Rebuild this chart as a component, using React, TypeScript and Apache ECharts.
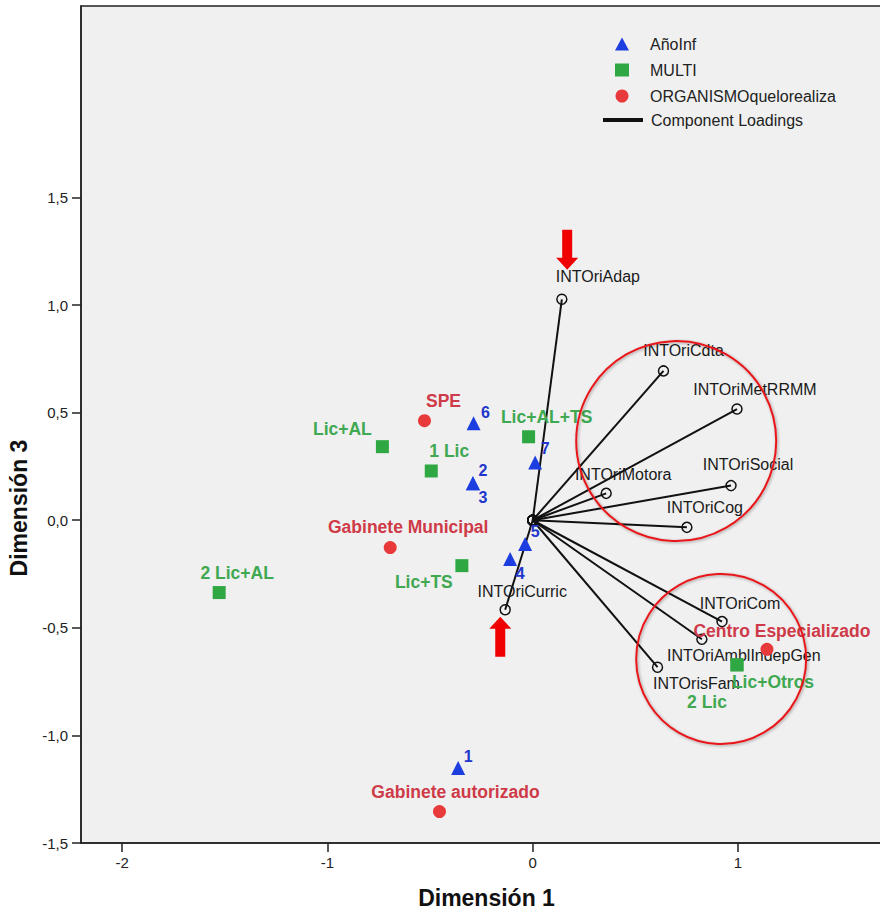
import React, { useEffect, useRef } from "react";
import * as echarts from "echarts";

// ---------- data ----------
const ANO_NAMES = ["1", "2", "3", "4", "5", "6", "7"];
const ANO_X = [-0.363, -0.291, -0.291, -0.11, -0.037, -0.288, 0.012];
const ANO_Y = [-1.151, 0.172, 0.172, -0.18, -0.11, 0.451, 0.268];

const MULTI_NAMES = ["1 Lic", "2 Lic", "Lic+AL", "2 Lic+AL", "Lic+TS", "Lic+AL+TS", "Lic+Otros"];
const MULTI_X = [-0.494, 0.995, -0.732, -1.527, -0.345, -0.02, 0.995];
const MULTI_Y = [0.229, -0.672, 0.342, -0.336, -0.211, 0.388, -0.672];

const ORG_NAMES = ["SPE", "Gabinete Municipal", "Gabinete autorizado", "Centro Especializado"];
const ORG_X = [-0.527, -0.694, -0.454, 1.141];
const ORG_Y = [0.463, -0.127, -1.354, -0.6];

const LOAD_NAMES = [
  "INTOriAdap", "INTOriCdta", "INTOriMetRRMM", "INTOriMotora", "INTOriSocial",
  "INTOriCog", "INTOriCom", "INTOriAmblIndepGen", "INTOrisFam", "INTOriCurric",
];
const LOAD_X = [0.142, 0.637, 0.995, 0.358, 0.966, 0.751, 0.922, 0.824, 0.608, -0.134];
const LOAD_Y = [1.027, 0.694, 0.517, 0.125, 0.161, -0.033, -0.471, -0.553, -0.683, -0.416];

const X_TICKS = [-2, -1, 0, 1];
const Y_TICKS = [-1.5, -1, -0.5, 0, 0.5, 1, 1.5];

// annotation anchors (data coordinates)
const RING_CENTERS = [[0.699, 0.368], [0.918, -0.645]];
const ARROW_TIPS = [[0.168, 1.164], [-0.158, -0.448]];

// ---------- label offsets (px) ----------
const ANO_OFF: Record<string, number[]> = {
  "1": [10, -11], "2": [10, -13], "3": [10, 14], "4": [10, 15], "5": [10, -12], "6": [12, -11], "7": [10, -14],
};
const MULTI_OFF: Record<string, number[]> = {
  "1 Lic": [18, -20], "2 Lic": [-30, 37], "Lic+AL": [-40, -18], "2 Lic+AL": [18, -20],
  "Lic+TS": [-38, 16], "Lic+AL+TS": [18, -20], "Lic+Otros": [36, 17],
};
const ORG_OFF: Record<string, number[]> = {
  SPE: [19, -20], "Gabinete Municipal": [18, -21], "Gabinete autorizado": [16, -20], "Centro Especializado": [15, -18],
};
const LOAD_OFF: Record<string, number[]> = {
  INTOriAdap: [36, -23], INTOriCdta: [20, -20], INTOriMetRRMM: [18, -20], INTOriMotora: [17, -19],
  INTOriSocial: [17, -21], INTOriCog: [18, -20], INTOriCom: [18, -18], INTOriAmblIndepGen: [42, 16],
  INTOrisFam: [39, 16], INTOriCurric: [17, -18],
};

const SANS = "'Liberation Sans', Arial, sans-serif";

function pointItems(names: string[], xs: number[], ys: number[], off: Record<string, number[]>) {
  return names.map((n, i) => ({
    name: n,
    value: [xs[i], ys[i]],
    label: { offset: off[n] || [0, 0] },
  }));
}

export default function App() {
  const ref = useRef<HTMLDivElement>(null);

  useEffect(() => {
    if (!ref.current) return;
    const chart = echarts.init(ref.current, undefined, { renderer: "svg" });

    const boldLabel = (color: string, size: number) => ({
      show: true,
      formatter: "{b}",
      position: "inside",
      align: "center",
      verticalAlign: "middle",
      color,
      fontFamily: SANS,
      fontWeight: "bold",
      fontSize: size,
    });

    const loadingSeries = LOAD_NAMES.map((n, i) => ({
      type: "line",
      name: "Component Loadings",
      data: [
        { value: [0, 0], label: { show: false } },
        {
          name: n,
          value: [LOAD_X[i], LOAD_Y[i]],
          label: {
            show: true,
            formatter: n,
            position: "inside",
            align: "center",
            verticalAlign: "middle",
            offset: LOAD_OFF[n],
            color: "#1a1a1a",
            fontFamily: SANS,
            fontSize: 16,
          },
        },
      ],
      symbol: "circle",
      symbolSize: 10,
      showAllSymbol: true,
      lineStyle: { color: "#111", width: 2 },
      itemStyle: { color: "rgba(0,0,0,0)", borderColor: "#111", borderWidth: 1.5 },
      z: 2,
      silent: true,
    }));

    chart.setOption({
      animation: false,
      backgroundColor: "#ffffff",
      grid: {
        left: 81,
        top: 6,
        width: 811,
        height: 837,
        outerBoundsMode: "none",
        containLabel: false,
        show: true,
        backgroundColor: "#f0f0f0",
        borderColor: "#222",
        borderWidth: 1.5,
      },
      xAxis: {
        type: "value",
        min: -2.2,
        max: 1.75,
        axisLine: { onZero: false, lineStyle: { color: "#222", width: 1.5 } },
        axisTick: { show: true, customValues: X_TICKS, length: 9, lineStyle: { color: "#222", width: 1.5 } },
        axisLabel: {
          customValues: X_TICKS,
          formatter: (v: number) => String(v),
          color: "#222",
          fontFamily: SANS,
          fontSize: 15,
          margin: 12,
        },
        splitLine: { show: false },
        name: "Dimensión 1",
        nameLocation: "middle",
        nameGap: 43,
        nameTextStyle: { color: "#111", fontFamily: SANS, fontWeight: "bold", fontSize: 23 },
      },
      yAxis: {
        type: "value",
        min: -1.5,
        max: 2.39,
        axisLine: { onZero: false, lineStyle: { color: "#222", width: 1.5 } },
        axisTick: { show: true, customValues: Y_TICKS, length: 9, lineStyle: { color: "#222", width: 1.5 } },
        axisLabel: {
          customValues: Y_TICKS,
          formatter: (v: number) => v.toFixed(1).replace(".", ","),
          color: "#222",
          fontFamily: SANS,
          fontSize: 15,
          margin: 13,
        },
        splitLine: { show: false },
      },
      legend: [
        {
          orient: "vertical",
          left: 610,
          top: 31,
          itemWidth: 14,
          itemHeight: 13,
          itemGap: 10,
          textStyle: { color: "#222", fontFamily: SANS, fontSize: 16, padding: [0, 0, 0, 16] },
          data: [
            { name: "AñoInf", icon: "triangle" },
            { name: "MULTI", icon: "rect" },
            { name: "ORGANISMOquelorealiza", icon: "circle" },
          ],
        },
        {
          orient: "vertical",
          left: 598,
          top: 107,
          itemWidth: 38,
          itemHeight: 14,
          textStyle: { color: "#222", fontFamily: SANS, fontSize: 16, padding: [0, 0, 0, 4] },
          data: [
            { name: "Component Loadings", icon: "path://M0,0H38V2H0Z", itemStyle: { color: "#333" } },
          ],
        },
      ],
      series: [
        ...loadingSeries,
        {
          type: "scatter",
          name: "AñoInf",
          symbol: "triangle",
          symbolSize: 14,
          itemStyle: { color: "#1c3ee0", opacity: 1 },
          label: boldLabel("#2136cc", 16),
          data: pointItems(ANO_NAMES, ANO_X, ANO_Y, ANO_OFF),
          z: 3,
        },
        {
          type: "scatter",
          name: "MULTI",
          symbol: "rect",
          symbolSize: 13,
          itemStyle: { color: "#2fa843", opacity: 1 },
          label: boldLabel("#41a852", 17.5),
          data: pointItems(MULTI_NAMES, MULTI_X, MULTI_Y, MULTI_OFF),
          z: 3,
        },
        {
          type: "scatter",
          name: "ORGANISMOquelorealiza",
          symbol: "circle",
          symbolSize: 13,
          itemStyle: { color: "#e8393b", opacity: 1 },
          label: boldLabel("#cf3a48", 17.5),
          data: pointItems(ORG_NAMES, ORG_X, ORG_Y, ORG_OFF),
          z: 3,
        },
      ],
    });

    // annotations placed via the chart's own coordinate conversion
    const px = (p: number[]) => chart.convertToPixel({ gridIndex: 0 }, p) as number[];
    const ringRadii = [100, 85];
    const rings = RING_CENTERS.map((c, i) => {
      const [cx, cy] = px(c);
      return {
        type: "circle",
        shape: { cx, cy, r: ringRadii[i] },
        style: {
          fill: "none",
          stroke: "#e8191a",
          lineWidth: 2,
          shadowBlur: 3,
          shadowOffsetX: 1,
          shadowOffsetY: 1,
          shadowColor: "rgba(0,0,0,0.35)",
        },
        z: 100,
        silent: true,
      };
    });
    const arrows = ARROW_TIPS.map((t, i) => {
      const [x, y] = px(t);
      const s = i === 0 ? 1 : -1; // 1: pointing down, -1: pointing up
      const pts = [
        [-5, -40], [5, -40], [5, -12], [11, -12], [0, 0], [-11, -12], [-5, -12],
      ].map(([dx, dy]) => [x + dx, y + s * dy]);
      return {
        type: "polygon",
        shape: { points: pts },
        style: { fill: "#f00000", stroke: "none" },
        z: 100,
        silent: true,
      };
    });

    chart.setOption({
      graphic: [
        ...rings,
        ...arrows,
        {
          type: "text",
          x: 19,
          y: 508,
          rotation: Math.PI / 2,
          style: {
            text: "Dimensión 3",
            fill: "#111",
            font: `bold 23px ${SANS}`,
            align: "center",
            verticalAlign: "middle",
          },
          z: 100,
          silent: true,
        },
      ],
    });

    return () => chart.dispose();
  }, []);

  return (
    <div
      ref={ref}
      style={{ position: "absolute", left: 0, top: 0, width: 880, height: 914 }}
    />
  );
}
